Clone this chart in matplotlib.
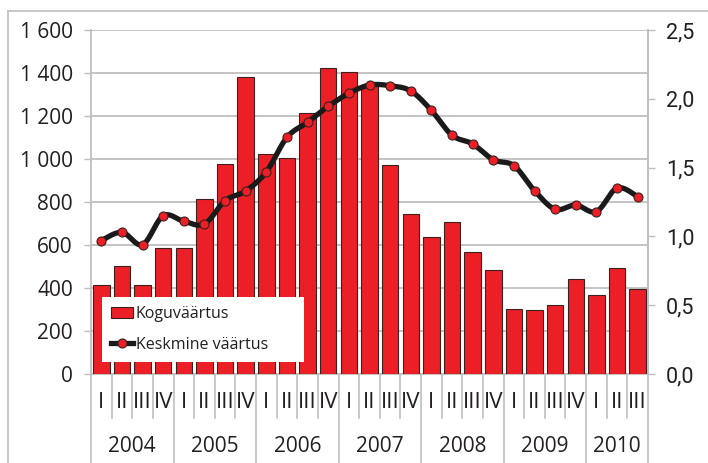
## Quarterly total value (bars) and average value (smoothed line), 2004-2010

import numpy as np
import matplotlib.pyplot as plt
from matplotlib.lines import Line2D
from matplotlib.patches import Patch

## Data
years = ['2004', '2005', '2006', '2007', '2008', '2009', '2010']
quarters_per_year = [4, 4, 4, 4, 4, 4, 3]
quarter_names = ['I', 'II', 'III', 'IV']

total_value = [413, 502, 415, 585,
               585, 812, 975, 1383,
               1023, 1005, 1215, 1425,
               1405, 1342, 973, 745,
               638, 707, 566, 482,
               302, 298, 322, 442,
               369, 492, 395]

mean_value = [0.97, 1.03, 0.94, 1.15,
              1.11, 1.09, 1.26, 1.33,
              1.47, 1.72, 1.83, 1.945,
              2.04, 2.10, 2.095, 2.057,
              1.916, 1.735, 1.672, 1.557,
              1.514, 1.332, 1.197, 1.228,
              1.18, 1.352, 1.289]

left_ticks = [0, 200, 400, 600, 800, 1000, 1200, 1400, 1600]
right_ticks = [0.0, 0.5, 1.0, 1.5, 2.0, 2.5]

RED = '#ec1f26'
GREY = '#bfbfbf'
TEXT = '#231f20'


def smooth_curve(x, y, n=20):
    """
        Excel-like smoothed line: cubic bezier segments with catmull-rom control points
    """
    x = np.asarray(x, dtype=float)
    y = np.asarray(y, dtype=float)
    px = np.concatenate(([x[0]], x, [x[-1]]))
    py = np.concatenate(([y[0]], y, [y[-1]]))
    t = np.linspace(0, 1, n)[:, None]
    xs, ys = [], []
    for i in range(len(x) - 1):
        p0 = np.array([px[i + 1], py[i + 1]])
        p3 = np.array([px[i + 2], py[i + 2]])
        c1 = p0 + (p3 - np.array([px[i], py[i]])) / 6
        c2 = p3 - (np.array([px[i + 3], py[i + 3]]) - p0) / 6
        pts = (1 - t)**3 * p0 + 3 * (1 - t)**2 * t * c1 + 3 * (1 - t) * t**2 * c2 + t**3 * p3
        xs.append(pts[:, 0])
        ys.append(pts[:, 1])
    return np.concatenate(xs), np.concatenate(ys)


plt.rcParams['font.family'] = ['Open Sans', 'DejaVu Sans']

fig = plt.figure(figsize=(7.08, 4.63), dpi=100)
ax = fig.add_axes([91 / 708, 1 - 374 / 463, 557 / 708, 344 / 463])
ax2 = ax.twinx()

x = np.arange(len(total_value))

# Bars on the left axis
ax.bar(x, total_value, width=0.8, color=RED, edgecolor='#3b2020', linewidth=0.8, zorder=3)
ax.set_xlim(-0.5, len(x) - 0.5)
ax.set_ylim(0, 1600)
ax.set_yticks(left_ticks)
ax.set_yticklabels([f'{v:,}'.replace(',', ' ') for v in left_ticks])
ax.yaxis.grid(True, color=GREY, linewidth=1.3, zorder=0)
ax.set_axisbelow(True)
ax.tick_params(axis='y', direction='out', length=5, width=1, color=GREY,
               labelsize=15, labelcolor=TEXT, pad=8)
ax.set_xticks([])
for side in ['top']:
    ax.spines[side].set_visible(False)
for side in ['left', 'right', 'bottom']:
    ax.spines[side].set_color(GREY)
    ax.spines[side].set_linewidth(1.3)

# Smoothed line on the right axis
sx, sy = smooth_curve(x, mean_value)
ax2.plot(sx, sy, color='#1a1a1a', linewidth=3.8, solid_capstyle='round', zorder=4)
ax2.plot(x, mean_value, linestyle='none', marker='o', markersize=6.5,
         markerfacecolor=RED, markeredgecolor='#3b2020', markeredgewidth=0.8, zorder=5)
ax2.set_ylim(0, 2.5)
ax2.set_yticks(right_ticks)
ax2.set_yticklabels([f'{v:.1f}'.replace('.', ',') for v in right_ticks],
                    family=['Roboto', 'DejaVu Sans'])
ax2.tick_params(axis='y', direction='out', length=5, width=1, color=GREY,
                labelsize=15.5, labelcolor=TEXT, pad=8)
for side in ['top', 'left', 'bottom']:
    ax2.spines[side].set_visible(False)
ax2.spines['right'].set_color(GREY)
ax2.spines['right'].set_linewidth(1.3)

# Two level category axis: quarters and years with separators
trans = ax.get_xaxis_transform()
q_bottom = -(418 - 374) / 344
y_bottom = -(463 - 374) / 344
pos = 0
for year, nq in zip(years, quarters_per_year):
    for q in range(nq):
        ax.text(pos + q, -0.084, quarter_names[q], transform=trans, ha='center', va='center',
                fontsize=16, color=TEXT)
        if q > 0:
            ax.add_line(Line2D([pos + q - 0.5] * 2, [0, q_bottom], transform=trans,
                               color=GREY, linewidth=1.2, clip_on=False))
    ax.text(pos + (nq - 1) / 2, -0.212, year, transform=trans, ha='center', va='center',
            fontsize=15, color=TEXT)
    ax.add_line(Line2D([pos - 0.5] * 2, [0, y_bottom], transform=trans,
                       color=GREY, linewidth=1.2, clip_on=False))
    pos += nq
ax.add_line(Line2D([pos - 0.5] * 2, [0, y_bottom], transform=trans,
                   color=GREY, linewidth=1.2, clip_on=False))

# Legend
handles = [Patch(facecolor=RED, edgecolor='#3b2020', linewidth=0.8),
           Line2D([], [], color='#1a1a1a', linewidth=3.8, marker='o', markersize=6.5,
                  markerfacecolor=RED, markeredgecolor='#3b2020', markeredgewidth=0.8)]
leg = ax2.legend(handles, ['Koguväärtus', 'Keskmine väärtus'], loc='upper left',
                 bbox_to_anchor=(11 / 557, 77 / 344, 202 / 557, 0), mode='expand',
                 frameon=True, fancybox=False, framealpha=1, facecolor='white',
                 edgecolor='none', fontsize=11.5, numpoints=1, handlelength=1.4,
                 handletextpad=0.15, labelspacing=0.95, borderpad=0.55,
                 borderaxespad=0)
leg.set_zorder(10)
for t in leg.get_texts():
    t.set_color(TEXT)
leg._legend_box.align = 'left'

# Outer chart border
fig.add_artist(Line2D([8 / 708, 8 / 708], [0, 1 - 11 / 463], color=GREY, linewidth=1.2))
fig.add_artist(Line2D([8 / 708, 1], [1 - 11 / 463] * 2, color=GREY, linewidth=1.2))

fig.savefig('out.png', dpi=100)
